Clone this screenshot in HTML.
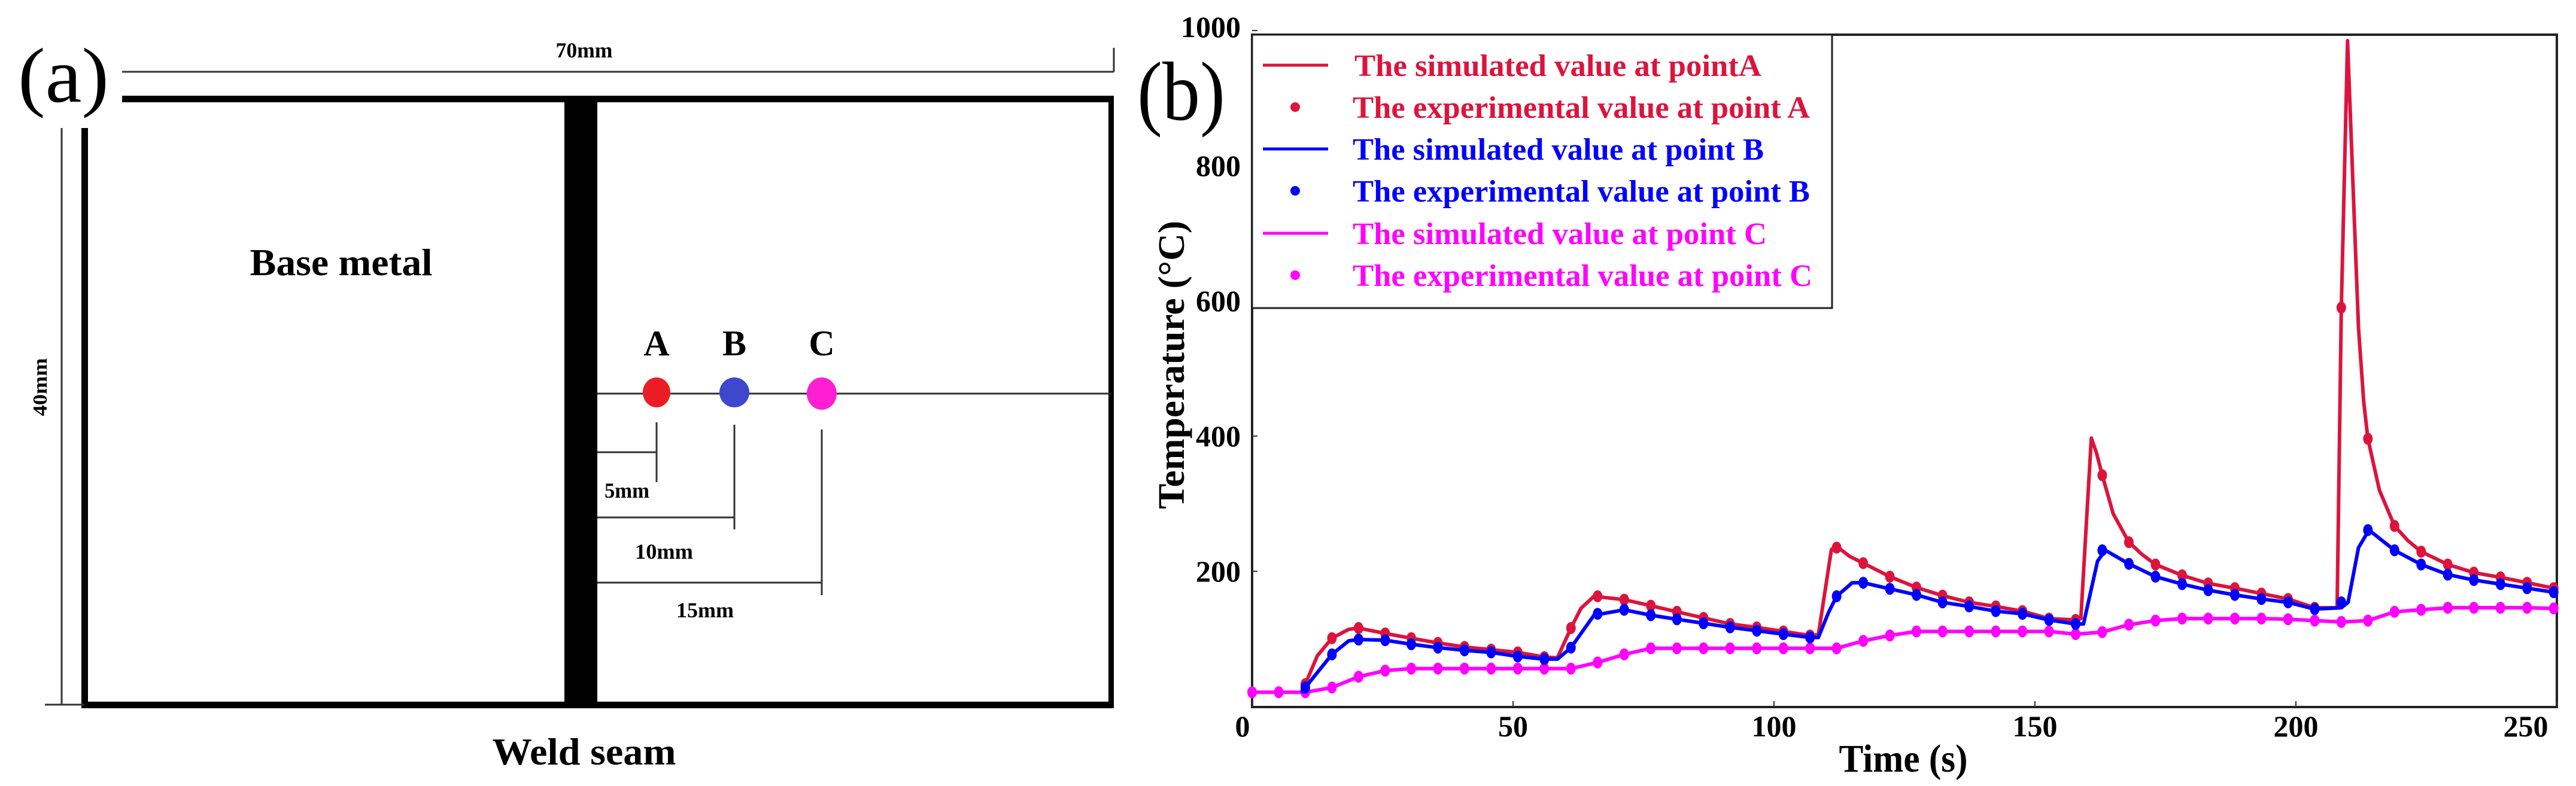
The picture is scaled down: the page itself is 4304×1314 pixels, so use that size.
<!DOCTYPE html>
<html><head><meta charset="utf-8">
<style>
html,body{margin:0;padding:0;background:#fff;}
svg{display:block;}
text{font-family:"Liberation Serif",serif;}
</style></head>
<body>
<svg id="fig" width="4304" height="1314" viewBox="0 0 4304 1314" xmlns="http://www.w3.org/2000/svg">
<g>
  <text x="30" y="170" font-size="130" textLength="152" lengthAdjust="spacingAndGlyphs">(a)</text>
  <text x="976" y="96" font-size="36" font-weight="bold" text-anchor="middle" textLength="95" lengthAdjust="spacingAndGlyphs">70mm</text>
  <line x1="204" y1="120" x2="1861" y2="120" stroke="#333" stroke-width="3"/>
  <line x1="1861" y1="80" x2="1861" y2="120" stroke="#333" stroke-width="3"/>
  <rect x="204" y="160" width="1657" height="11" fill="#000"/>
  <rect x="136" y="214" width="11" height="970" fill="#000"/>
  <rect x="136" y="1173" width="1725" height="11" fill="#000"/>
  <rect x="1852" y="160" width="9" height="1024" fill="#000"/>
  <line x1="103" y1="214" x2="103" y2="1178" stroke="#333" stroke-width="3"/>
  <line x1="75" y1="1178" x2="141" y2="1178" stroke="#333" stroke-width="3"/>
  <text transform="translate(78,647) rotate(-90)" font-size="34" font-weight="bold" text-anchor="middle" textLength="97" lengthAdjust="spacingAndGlyphs">40mm</text>
  <rect x="943" y="165" width="55" height="1013" fill="#000"/>
  <text x="570" y="460" font-size="64" font-weight="bold" text-anchor="middle" textLength="305" lengthAdjust="spacingAndGlyphs">Base metal</text>
  <line x1="998" y1="658" x2="1855" y2="658" stroke="#333" stroke-width="3"/>
  <ellipse cx="1097" cy="656" rx="23" ry="25" fill="#ec1c24"/>
  <ellipse cx="1227" cy="656" rx="25" ry="25" fill="#3f48cc"/>
  <ellipse cx="1373" cy="658" rx="25" ry="27" fill="#ff1fd2"/>
  <text x="1097" y="594" font-size="60" font-weight="bold" text-anchor="middle">A</text>
  <text x="1227" y="594" font-size="60" font-weight="bold" text-anchor="middle">B</text>
  <text x="1373" y="594" font-size="60" font-weight="bold" text-anchor="middle">C</text>
  <g stroke="#333" stroke-width="3">
    <line x1="1097" y1="706" x2="1097" y2="806"/>
    <line x1="998" y1="756" x2="1097" y2="756"/>
    <line x1="1227" y1="710" x2="1227" y2="885"/>
    <line x1="998" y1="865" x2="1227" y2="865"/>
    <line x1="1373" y1="718" x2="1373" y2="995"/>
    <line x1="998" y1="974" x2="1373" y2="974"/>
  </g>
  <text x="1010" y="832" font-size="36" font-weight="bold" textLength="75" lengthAdjust="spacingAndGlyphs">5mm</text>
  <text x="1061" y="934" font-size="36" font-weight="bold" textLength="97" lengthAdjust="spacingAndGlyphs">10mm</text>
  <text x="1130" y="1032" font-size="36" font-weight="bold" textLength="96" lengthAdjust="spacingAndGlyphs">15mm</text>
  <text x="976" y="1278" font-size="64" font-weight="bold" text-anchor="middle" textLength="307" lengthAdjust="spacingAndGlyphs">Weld seam</text>
</g>
<g id="chart"></g>
</svg>
<script>
// experimental sample times (s)
const expTimes = [0,5.1,10.2,15.3,20.4,25.5,30.5,35.6,40.7,45.8,50.9,56,61.1,66.2,71.3,76.4,81.4,86.5,91.6,96.7,101.8,106.9,112,117.1,122.2,127.3,132.3,137.4,142.5,147.6,152.7,157.8,162.9,168,173.1,178.2,183.2,188.3,193.4,198.5,203.6,208.7,213.8,218.9,224,229.1,234.1,239.2,244.3,249.4];
const expA = [null,null,33,101,116,108,101,94,88,84,80,73,116,163,158,149,140,131,122,117,111,105,235,212,192,176,164,154,148,141,130,128,342,243,210,194,182,175,167,159,146,590,396,267,229,210,198,191,183,175];
const expB = [null,null,28,77,99,98,92,87,83,80,74,70,87,137,143,135,129,123,117,112,107,102,163,183,174,165,154,148,141,137,128,122,231,211,192,181,172,165,159,154,144,154,261,231,210,195,187,181,175,169];
const expC = [21,21,21,28,44,53,56,56,56,56,56,56,56,65,77,86,86,86,86,86,86,86,86,97,105,111,111,111,111,111,111,107,110,121,127,130,130,130,130,129,127,125,127,140,143,146,146,146,146,145];
// simulated curves
const simTimesA = [9.5,10.2,12.5,15.3,18.5,20.4,25.5,30.5,35.6,40.7,45.8,50.9,56,58.5,61.1,63,65.5,71.3,76.4,81.4,86.5,91.6,96.7,101.8,106.9,108.5,111,112,114.5,117.1,122.2,127.3,132.3,137.4,142.5,147.6,152.7,157.8,158.8,160.8,161.8,162.9,165,168,170.5,173.1,178.2,183.2,188.3,193.4,198.5,203.6,207.9,208.7,209.9,211,212,213,213.8,216,218.9,221.5,224,229.1,234.1,239.2,244.3,249.4,250];
const simTempsA = [22,33,75,101,114,116,108,101,94,88,84,80,73,72,116,145,163,158,149,140,131,122,117,111,105,106,232,237,222,212,192,176,164,154,148,141,130,128,130,397,375,342,285,243,225,210,194,182,175,167,159,146,146,590,985,760,560,450,396,320,267,245,229,210,198,191,183,175,174];
const simTimesB = [9.5,10.2,15.3,18.5,20.4,25.5,30.5,35.6,40.7,45.8,50.9,56,58.5,61.1,65.5,71.3,76.4,81.4,86.5,91.6,96.7,101.8,106.9,108.5,110.5,112,115,117.1,122.2,127.3,132.3,137.4,142.5,147.6,152.7,157.8,159.3,162,163.5,168,173.1,178.2,183.2,188.3,193.4,198.5,203.6,208.7,210,212,214,218.9,224,229.1,234.1,239.2,244.3,249.4,250];
const simTempsB = [20,28,77,97,99,98,92,87,83,80,74,70,70,87,135,143,135,129,123,117,112,107,102,102,140,163,183,183,174,165,154,148,141,137,128,122,122,215,231,211,192,181,172,165,159,154,144,146,154,235,261,231,210,195,187,181,175,169,168];
const simTimesC = expTimes.concat([250]);
const simTempsC = expC.concat([145]);
// axis ticks
const xTicks = [0,50,100,150,200,250];
const yTicks = [200,400,600,800,1000];
const legendLabels = ["The simulated value at pointA","The experimental value at point A","The simulated value at point B","The experimental value at point B","The simulated value at point C","The experimental value at point C"];

const X0=2092, X1=4272, Y0=1181, Y1=51;
function xs(t){return X0+(t/250)*(X1-X0);}
function ys(v){return Y0-(v/1000)*(Y0-Y1);}
const NS="http://www.w3.org/2000/svg";
const chart=document.getElementById('chart');
function mk(tag,attrs,parent){const e=document.createElementNS(NS,tag);for(const k in attrs)e.setAttribute(k,attrs[k]);(parent||chart).appendChild(e);return e;}

const colA="#dc143c", colB="#0000ff", colC="#ff00ff";

const frame=mk('rect',{x:X0,y:58,width:X1-X0,height:Y0-58+1,fill:'none',stroke:'#222','stroke-width':4});



xTicks.forEach(function(t){
  const tk=mk('line',{x1:xs(t),y1:Y0,x2:xs(t),y2:Y0-9,stroke:'#333','stroke-width':2});
  
  
  let lx=xs(t); if(t===0) lx-=16; if(lx>4220) lx=4220;
  const lb=mk('text',{x:lx,y:Y0+50,'font-size':50,'font-weight':'bold','text-anchor':'middle'});
  lb.textContent=t;
  
  
});
yTicks.forEach(function(v){
  const tk=mk('line',{x1:X0,y1:ys(v),x2:X0+9,y2:ys(v),stroke:'#333','stroke-width':2});
  
  
  let ly=ys(v)+17; if(v===1000) ly=62;
  const lb=mk('text',{x:2073,y:ly,'font-size':50,'font-weight':'bold','text-anchor':'end'});
  lb.textContent=v;
  
  
});
const yt=mk('text',{transform:'translate(1978,610) rotate(-90)','font-size':62,'font-weight':'bold','text-anchor':'middle',textLength:482,lengthAdjust:'spacingAndGlyphs'});
yt.textContent='Temperature (°C)';


const xt=mk('text',{x:3180,y:1290,'font-size':66,'font-weight':'bold','text-anchor':'middle',textLength:215,lengthAdjust:'spacingAndGlyphs'});
xt.textContent='Time (s)';


const pb=mk('text',{x:1900,y:200,'font-size':140,textLength:147,lengthAdjust:'spacingAndGlyphs'});
pb.textContent='(b)';



function line(times,vals,col,name){
  let d='';
  for(let i=0;i<times.length;i++){ if(vals[i]==null) continue; d+=(d?'L':'M')+xs(times[i]).toFixed(1)+','+ys(vals[i]).toFixed(1); }
  const p=mk('path',{d:d,fill:'none',stroke:col,'stroke-width':6,'stroke-linejoin':'round'});
  
  
}
function pts(vals,col,name){
  const g=mk('g',{fill:col});
  
  
  for(let i=0;i<expTimes.length;i++){ if(vals[i]==null) continue;
    const c=mk('ellipse',{cx:xs(expTimes[i]),cy:ys(vals[i]),rx:8,ry:10},g);
    
    
  }
}
line(simTimesC,simTempsC,colC,'simulated-line-c');
pts(expC,colC,'experimental-points-c');
line(simTimesA,simTempsA,colA,'simulated-line-a');
pts(expA,colA,'experimental-points-a');
line(simTimesB,simTempsB,colB,'simulated-line-b');
pts(expB,colB,'experimental-points-b');

const lg=mk('g',{});


const lbox=mk('rect',{x:X0,y:58,width:3061-X0,height:515-58,fill:'#fff',stroke:'#222','stroke-width':3},lg);


const rowY=[109,179,249,319,390,460];
const rowCol=[colA,colA,colB,colB,colC,colC];
const rowLen=[680,764,687,764,692,768];
legendLabels.forEach(function(s,i){
  if(i%2===0){
    const ln=mk('line',{x1:2110,y1:rowY[i],x2:2219,y2:rowY[i],stroke:rowCol[i],'stroke-width':5},lg);
    
    
  } else {
    const dt=mk('circle',{cx:2164,cy:rowY[i],r:8,fill:rowCol[i]},lg);
    
    
  }
  const tx=mk('text',{x:i===0?2263:2260,y:rowY[i]+18,'font-size':52,'font-weight':'bold',fill:rowCol[i],textLength:rowLen[i],lengthAdjust:'spacingAndGlyphs'},lg);
  tx.textContent=s;
  
  
});
</script>
</body></html>
